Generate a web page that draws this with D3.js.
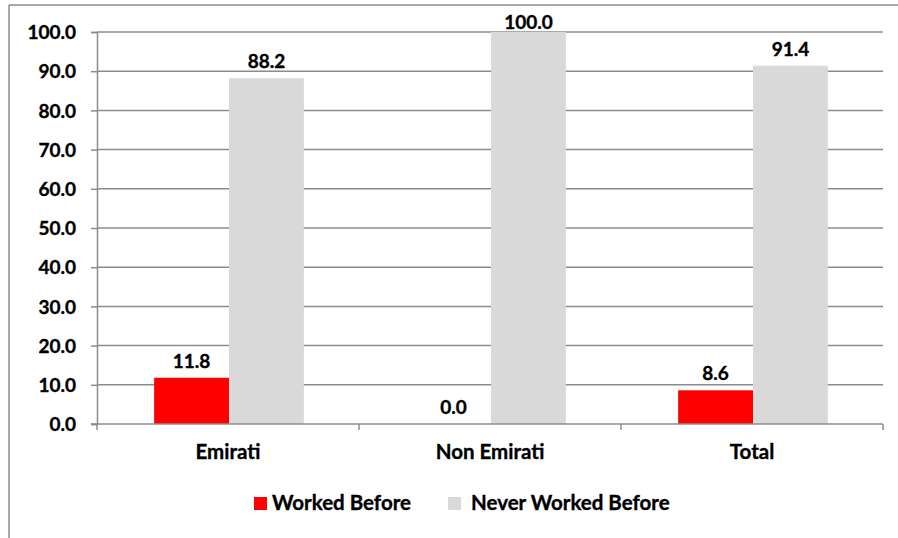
<!DOCTYPE html>
<html>
<head>
<meta charset="utf-8">
<script src="https://cdn.jsdelivr.net/npm/d3@7/dist/d3.min.js"></script>
<style>
  html, body { margin: 0; padding: 0; background: #fff; }
  svg { display: block; }
  text { font-family: Lato, "Open Sans", sans-serif; font-weight: bold; fill: #000; stroke: #000; stroke-width: 0.35px; }
</style>
</head>
<body>
<svg id="chart" width="898" height="538"></svg>
<script>
const categories = ["Emirati", "Non Emirati", "Total"];
const seriesNames = ["Worked Before", "Never Worked Before"];
const workedBefore = [11.8, 0.0, 8.6];
const neverWorkedBefore = [88.2, 100.0, 91.4];
const yTicks = [0, 10, 20, 30, 40, 50, 60, 70, 80, 90, 100];
const colors = ["#ff0000", "#d9d9d9"];

const seriesValues = [workedBefore, neverWorkedBefore];
const svg = d3.select("#chart");
const W = 898, H = 538;
const plot = { left: 97, right: 883, top: 32, bottom: 424 };
const gridColor = "#8c8c8c";
const numSize = 19;
const wordSize = 20.5;

// outer border (left + top)
svg.append("line").attr("x1", 9).attr("x2", W).attr("y1", 5).attr("y2", 5)
  .attr("stroke", gridColor).attr("stroke-width", 1.5);
svg.append("line").attr("x1", 9).attr("x2", 9).attr("y1", 5).attr("y2", H)
  .attr("stroke", gridColor).attr("stroke-width", 1.5);

const y = d3.scaleLinear().domain([0, 100]).range([plot.bottom, plot.top]);
const x0 = d3.scaleBand().domain(categories).range([plot.left, plot.right]).paddingInner(0).paddingOuter(0);
const bw = x0.bandwidth();
const x1 = d3.scaleBand().domain(seriesNames).range([bw * 0.375 / 1.75 + 1, bw - bw * 0.375 / 1.75 + 1]).padding(0);

// gridlines
svg.append("g").selectAll("line").data(yTicks.filter(t => t > 0)).join("line")
  .attr("x1", plot.left).attr("x2", plot.right)
  .attr("y1", d => y(d)).attr("y2", d => y(d))
  .attr("stroke", gridColor).attr("stroke-width", 1.5);

// bars
const groups = svg.append("g").selectAll("g").data(categories).join("g")
  .attr("transform", d => `translate(${x0(d)},0)`);
groups.selectAll("rect").data((c, i) => seriesNames.map((s, j) => ({ s, j, v: seriesValues[j][i] })))
  .join("rect")
  .attr("x", d => x1(d.s)).attr("width", x1.bandwidth())
  .attr("y", d => y(d.v)).attr("height", d => y(0) - y(d.v))
  .attr("fill", d => colors[d.j]);

// y axis
const yAxis = svg.append("g").attr("transform", `translate(${plot.left},0)`)
  .call(d3.axisLeft(y).tickValues(yTicks).tickFormat(d3.format(".1f")).tickSize(6).tickPadding(15));
yAxis.select(".domain").attr("stroke", gridColor).attr("stroke-width", 1.5);
yAxis.selectAll(".tick line").attr("stroke", gridColor).attr("stroke-width", 1.5);
yAxis.selectAll(".tick text").attr("font-size", numSize).attr("font-family", "Lato")
  .attr("font-weight", "bold").attr("fill", "#000").attr("dy", "0.35em");

// x axis
const xAxis = svg.append("g").attr("transform", `translate(0,${plot.bottom})`)
  .call(d3.axisBottom(x0).tickSize(0).tickPadding(20));
xAxis.select(".domain").remove();
svg.append("line").attr("x1", plot.left - 6).attr("x2", plot.right)
  .attr("y1", plot.bottom).attr("y2", plot.bottom)
  .attr("stroke", gridColor).attr("stroke-width", 1.5);
xAxis.selectAll(".tick text").attr("font-size", wordSize).attr("font-family", "Lato")
  .attr("font-weight", "bold").attr("fill", "#000").attr("dy", "0.71em");
// category boundary ticks
const bounds = categories.map(c => x0(c)).concat([plot.right]);
svg.append("g").selectAll("line").data(bounds).join("line")
  .attr("x1", d => d).attr("x2", d => d)
  .attr("y1", plot.bottom).attr("y2", plot.bottom + 6)
  .attr("stroke", gridColor).attr("stroke-width", 1.5);

// value labels
groups.selectAll("text.val").data((c, i) => seriesNames.map((s, j) => ({ s, j, v: seriesValues[j][i] })))
  .join("text").attr("class", "val")
  .attr("x", d => x1(d.s) + x1.bandwidth() / 2)
  .attr("y", d => Math.max(y(d.v) - 10, plot.top - 3))
  .attr("text-anchor", "middle").attr("font-size", numSize)
  .text(d => d3.format(".1f")(d.v));

// legend
const legendItems = [
  { name: seriesNames[0], color: colors[0], sx: 254, tx: 272 },
  { name: seriesNames[1], color: colors[1], sx: 448, tx: 471 }
];
const lg = svg.append("g");
lg.selectAll("rect").data(legendItems).join("rect")
  .attr("x", d => d.sx).attr("y", 497).attr("width", 13).attr("height", 13)
  .attr("fill", d => d.color);
lg.selectAll("text").data(legendItems).join("text")
  .attr("x", d => d.tx).attr("y", 510).attr("font-size", wordSize)
  .text(d => d.name);
</script>
</body>
</html>
